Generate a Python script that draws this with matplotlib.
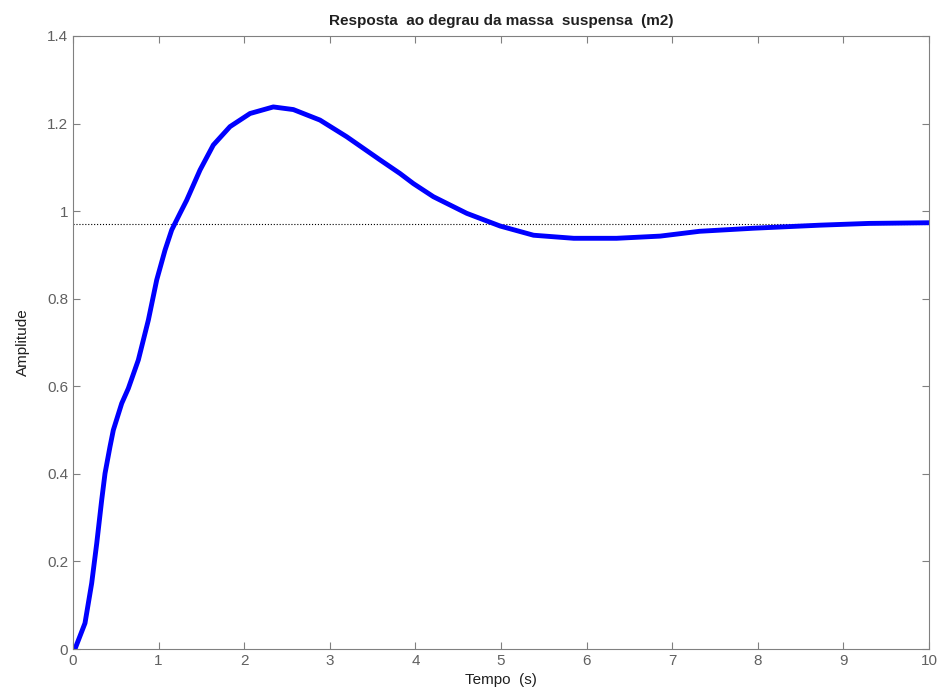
import matplotlib.pyplot as plt
import numpy as np

plt.rcParams['font.family'] = ['Liberation Sans', 'DejaVu Sans']

# values
tempo = [0.0, 0.023, 0.14, 0.218, 0.277, 0.335, 0.374, 0.432, 0.471, 0.569, 0.646,
         0.763, 0.88, 0.978, 1.075, 1.153, 1.25, 1.328, 1.484, 1.639, 1.834, 2.068,
         2.34, 2.574, 2.885, 3.197, 3.587, 3.82, 3.976, 4.21, 4.6, 4.99, 5.38,
         5.85, 6.35, 6.86, 7.32, 7.95, 8.73, 9.3, 10.0]
amplitude = [0.0, 0.0, 0.059, 0.150, 0.241, 0.340, 0.401, 0.462, 0.500, 0.561, 0.595,
             0.660, 0.751, 0.843, 0.911, 0.957, 0.995, 1.025, 1.094, 1.151, 1.193,
             1.223, 1.238, 1.232, 1.208, 1.170, 1.117, 1.086, 1.063, 1.033, 0.995,
             0.966, 0.945, 0.938, 0.938, 0.943, 0.954, 0.961, 0.968, 0.972, 0.9735]
valor_final = 0.97

fig = plt.figure(figsize=(9.42, 6.99), dpi=100)
ax = fig.add_axes([0.0775, 0.0715, 0.9087, 0.877])

ax.axhline(valor_final, color='black', linestyle=':', linewidth=0.8)
ax.plot(tempo, amplitude, color='#0000ff', linewidth=3.5,
        solid_joinstyle='round', solid_capstyle='round')

ax.set_xlim(0, 10)
ax.set_ylim(0, 1.4)
ax.set_xticks(np.arange(0, 11, 1))
ax.set_yticks(np.arange(0, 1.41, 0.2))
ax.set_xticklabels([str(i) for i in range(11)])
ax.set_yticklabels(['0', '0.2', '0.4', '0.6', '0.8', '1', '1.2', '1.4'])

for s in ax.spines.values():
    s.set_color('#808080')
ax.tick_params(direction='in', top=True, right=True, colors='#808080',
               labelcolor='#606060', labelsize=11, length=5)

ax.set_title('Resposta  ao degrau da massa  suspensa  (m2)', fontsize=11,
             fontweight='bold', color='#202020', pad=8)
ax.set_xlabel('Tempo  (s)', fontsize=11, color='#202020', labelpad=4)
ax.set_ylabel('Amplitude', fontsize=11, color='#202020', labelpad=12)

fig.savefig('out.png', dpi=100)
